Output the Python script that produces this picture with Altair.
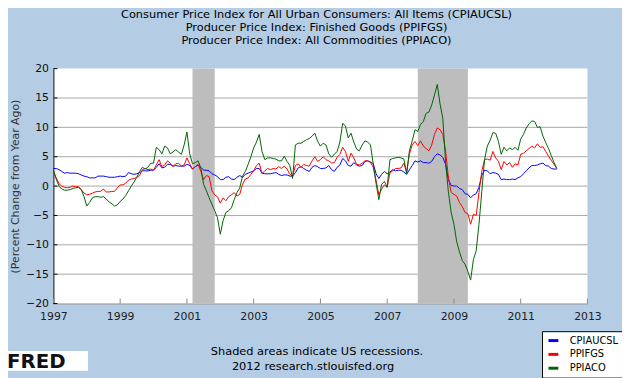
import altair as alt
import pandas as pd

# ---------------- data ----------------
series_names = ["CPIAUCSL", "PPIFGS", "PPIACO"]
series_colors = ["#0000ff", "#ff0000", "#006400"]
start_year = 1997  # monthly values from Jan 1997 to Feb 2012

cpi = [
    3.0, 3.0, 2.8, 2.5, 2.2, 2.3, 2.2, 2.2, 2.2, 2.1, 1.9, 1.7,
    1.6, 1.4, 1.4, 1.4, 1.7, 1.7, 1.7, 1.6, 1.5, 1.5, 1.5, 1.6,
    1.7, 1.6, 1.7, 2.3, 2.1, 2.0, 2.1, 2.3, 2.6, 2.6, 2.6, 2.7,
    2.7, 3.2, 3.8, 3.1, 3.2, 3.7, 3.7, 3.4, 3.5, 3.4, 3.4, 3.4,
    3.7, 3.5, 2.9, 3.3, 3.6, 3.2, 2.7, 2.7, 2.6, 2.1, 1.9, 1.6,
    1.1, 1.1, 1.5, 1.6, 1.2, 1.1, 1.5, 1.8, 1.5, 2.0, 2.2, 2.4,
    2.6, 3.0, 3.0, 2.2, 2.1, 2.1, 2.1, 2.2, 2.3, 2.0, 1.8, 1.9,
    1.9, 1.7, 1.7, 2.3, 3.1, 3.3, 3.0, 2.7, 2.5, 3.2, 3.5, 3.3,
    3.0, 3.0, 3.1, 3.5, 2.8, 2.5, 3.2, 3.6, 4.7, 4.3, 3.5, 3.4,
    4.0, 3.6, 3.4, 3.5, 4.2, 4.3, 4.1, 3.8, 2.1, 1.3, 2.0, 2.5,
    2.1, 2.4, 2.8, 2.6, 2.7, 2.7, 2.4, 2.0, 2.8, 3.5, 4.3, 4.1,
    4.3, 4.0, 4.0, 3.9, 4.2, 5.0, 5.5, 5.3, 4.9, 3.7, 1.1, 0.1,
    0.0, 0.0, -0.4, -0.6, -1.3, -1.4, -2.0, -1.5, -1.3, -0.2, 1.8, 2.7,
    2.6, 2.1, 2.3, 2.2, 2.0, 1.1, 1.2, 1.1, 1.1, 1.2, 1.1, 1.4,
    1.6, 2.1, 2.6, 3.1, 3.5, 3.5, 3.6, 3.8, 3.9, 3.5, 3.4, 3.0,
    2.9, 2.9,
]

ppifgs = [
    2.6, 1.4, 0.4, 0.0, -0.2, -0.3, -0.2, 0.0, -0.1, -0.1, -0.6, -1.2,
    -1.5, -1.4, -1.2, -1.0, -0.9, -0.9, -0.5, -1.0, -1.0, -0.9, -0.9, -0.3,
    0.2, 0.2, 0.5, 1.0, 1.2, 1.3, 1.5, 1.8, 2.8, 3.0, 2.8, 2.9,
    2.7, 3.6, 4.5, 3.3, 3.6, 4.3, 3.9, 3.3, 3.8, 3.9, 3.4, 3.6,
    4.8, 3.8, 2.9, 3.3, 3.7, 2.5, 1.1, 1.8, 1.6, -0.8, -1.5, -1.8,
    -2.9, -2.0, -2.5, -1.8, -1.5, -1.1, -1.7, -1.4, 0.3, 1.2, 1.4, 2.0,
    2.6, 3.5, 3.9, 2.1, 2.6, 3.0, 2.8, 3.0, 2.9, 3.3, 3.0, 3.4,
    2.9, 2.0, 1.7, 3.5, 3.8, 3.2, 3.7, 3.5, 3.4, 4.3, 5.0, 4.2,
    4.5, 5.0, 4.5, 4.3, 3.9, 4.0, 4.9, 5.4, 6.6, 5.9, 4.2, 5.6,
    4.8, 3.7, 3.6, 3.9, 4.3, 4.3, 4.0, 3.2, 1.0, -1.5, -0.5, 0.2,
    -0.2, 2.3, 2.6, 3.0, 3.0, 3.1, 3.9, 2.4, 5.5, 7.0, 7.6, 6.9,
    7.7, 6.8, 6.4, 6.0, 7.0, 8.8, 9.9, 9.6, 8.8, 6.0, 1.5, -1.1,
    -1.4, -1.7, -2.8, -3.5, -4.5, -4.7, -6.5, -4.8, -5.0, -1.1, 2.5, 4.5,
    4.6, 4.4, 5.9, 4.8, 4.2, 2.8, 4.2, 3.6, 4.0, 3.2, 3.8, 3.6,
    5.4, 5.6, 6.0, 6.4, 6.8, 6.5, 7.2, 6.6, 6.7, 5.9, 5.1, 4.4,
    3.7, 3.0,
]

ppiaco = [
    2.6, 1.2, 0.0, -0.5, -0.7, -0.7, -0.6, -0.4, -0.3, -0.2, -0.6, -1.8,
    -3.4, -2.8, -2.0, -1.8, -1.8, -1.9, -1.8, -2.2, -2.7, -3.0, -3.4, -3.2,
    -2.6, -2.2, -1.6, -0.8, 0.0, 0.7, 1.5, 2.5, 3.2, 2.9, 3.2, 3.9,
    3.9, 6.6, 6.2, 5.5, 6.8, 6.5, 5.5, 5.8, 6.2, 5.8, 5.4, 7.0,
    9.2, 5.5, 3.8, 4.0, 4.3, 3.1, 0.3, -0.8, -2.0, -3.1, -4.2, -5.4,
    -8.2, -5.9, -4.5, -4.2, -3.7, -2.3, -1.1, -0.3, 1.7, 2.5, 3.7, 5.0,
    6.5, 7.5, 8.8, 5.9, 4.5, 4.8, 4.8, 4.7, 4.6, 4.3, 4.3, 5.1,
    4.2, 3.5, 1.3, 7.0, 7.3, 7.3, 7.6, 7.9, 8.1, 8.5, 9.0, 7.6,
    6.8, 7.3, 7.0, 5.5, 4.9, 5.4, 5.9, 7.5, 10.7, 10.2, 8.2, 9.0,
    7.5, 6.3, 6.0, 7.0, 7.7, 7.5, 7.0, 3.7, 0.5, -2.3, 0.3, 0.8,
    -0.2, 4.5, 4.7, 4.8, 4.9, 4.8, 4.6, 2.1, 6.0, 7.7, 9.6, 9.3,
    10.5, 11.0, 12.4, 12.6, 13.8, 15.5, 17.3, 14.0, 11.5, 4.0, -1.0, -4.5,
    -6.5, -9.5, -11.2, -12.7, -13.3, -14.5, -16.0, -12.5, -11.0, -6.5, -1.0, 4.5,
    6.8, 7.8, 9.1, 9.0, 7.6, 5.4, 6.6, 6.0, 6.5, 6.2, 6.6, 6.1,
    8.0, 8.8, 9.9, 10.6, 11.1, 11.0, 10.0, 10.1, 8.5, 7.4, 6.4, 5.2,
    4.0, 3.0,
]

recession_start = [2001.167, 2007.917]
recession_end = [2001.833, 2009.417]

x_ticks = [1997, 1999, 2001, 2003, 2005, 2007, 2009, 2011, 2013]
y_ticks = [-20, -15, -10, -5, 0, 5, 10, 15, 20]
grid_values = [-15, -10, -5, 0, 5, 10, 15]

title_lines = [
    "Consumer Price Index for All Urban Consumers: All Items (CPIAUCSL)",
    "Producer Price Index: Finished Goods (PPIFGS)",
    "Producer Price Index: All Commodities (PPIACO)",
]
note_1 = "Shaded areas indicate US recessions."
note_2 = "2012 research.stlouisfed.org"
y_title = "(Percent Change from Year Ago)"

# ---------------- tables ----------------
rows = []
for name, vals in zip(series_names, [cpi, ppifgs, ppiaco]):
    for i, v in enumerate(vals):
        rows.append({"t": start_year + i / 12.0, "series": name, "value": v})
df = pd.DataFrame(rows)

rec_df = pd.DataFrame({"start": recession_start, "end": recession_end,
                       "top": [20, 20], "bottom": [-20, -20]})
grid_df = pd.DataFrame({"g": grid_values})
xt_df = pd.DataFrame({"xt": x_ticks, "y0": [-20] * len(x_ticks),
                      "y1": [-19.15] * len(x_ticks)})
yt_df = pd.DataFrame({"yt": y_ticks, "x0": [1997] * len(y_ticks),
                      "x1": [1997.12] * len(y_ticks)})

W, H = 541, 238
FONT = "DejaVu Sans"

xscale = alt.Scale(domain=[1997, 2013], nice=False, zero=False)
yscale = alt.Scale(domain=[-20, 20], nice=False)

x_axis = alt.Axis(values=x_ticks, format="d", grid=False, tickSize=0,
                  labelPadding=7, labelFlush=False, domainColor="#999999",
                  labelColor="#222222", labelFont=FONT, labelFontSize=11,
                  title=None)
y_axis = alt.Axis(values=y_ticks, grid=False, tickSize=0, labelPadding=5,
                  domainColor="black", labelColor="#111111", labelFont=FONT,
                  labelFontSize=11, title=y_title, titleFont=FONT,
                  titleFontSize=11, titleFontWeight="normal",
                  titleColor="#333333", titleAngle=270, titleX=-38,
                  titleY=H / 2, titleAlign="center", titleBaseline="middle")

grid = alt.Chart(grid_df).mark_rule(color="#a8a8a8", strokeWidth=1).encode(
    y=alt.Y("g:Q", scale=yscale, axis=y_axis),
)

rec = alt.Chart(rec_df).mark_rect(color="#bdbdbd").encode(
    x=alt.X("start:Q", scale=xscale, axis=x_axis),
    x2="end:Q",
    y=alt.Y("top:Q", scale=yscale, axis=y_axis),
    y2="bottom:Q",
)

xtick = alt.Chart(xt_df).mark_rule(color="#888888").encode(
    x=alt.X("xt:Q", scale=xscale, axis=x_axis),
    y=alt.Y("y0:Q", scale=yscale, axis=y_axis),
    y2="y1:Q",
)

ytick = alt.Chart(yt_df).mark_rule(color="black").encode(
    x=alt.X("x0:Q", scale=xscale, axis=x_axis),
    x2="x1:Q",
    y=alt.Y("yt:Q", scale=yscale, axis=y_axis),
)

lines = alt.Chart(df).mark_line(strokeWidth=1).encode(
    x=alt.X("t:Q", scale=xscale, axis=x_axis),
    y=alt.Y("value:Q", scale=yscale, axis=y_axis),
    color=alt.Color("series:N",
                    scale=alt.Scale(domain=series_names, range=series_colors),
                    legend=alt.Legend(orient="none", legendX=495, legendY=266,
                                      title=None, fillColor="white",
                                      strokeColor="black", padding=3,
                                      symbolType="stroke", symbolStrokeWidth=3,
                                      symbolSize=100, symbolOffset=2,
                                      labelFont=FONT, labelFontSize=10,
                                      labelColor="black", labelOffset=10,
                                      rowPadding=1)),
)

note_df = pd.DataFrame({"txt": [note_1]})
note2_df = pd.DataFrame({"txt": [note_2]})
note_a = alt.Chart(note_df).mark_text(font=FONT, fontSize=11.5, color="black",
                                      align="center", baseline="middle").encode(
    text="txt:N", x=alt.value(267), y=alt.value(287))
note_b = alt.Chart(note2_df).mark_text(font=FONT, fontSize=11.5, color="black",
                                       align="center", baseline="middle").encode(
    text="txt:N", x=alt.value(263), y=alt.value(302))

logo_df = pd.DataFrame({"txt": ["FRED"]})
logo_box = alt.Chart(logo_df).mark_rect(color="white").encode(
    x=alt.value(-47), x2=alt.value(35), y=alt.value(286), y2=alt.value(306),
)
logo_text = alt.Chart(logo_df).mark_text(font=FONT, fontSize=20, fontWeight="bold",
                                         color="#111111", align="left",
                                         baseline="middle").encode(
    text="txt:N", x=alt.value(-47), y=alt.value(297),
)

chart = alt.layer(grid, rec, xtick, ytick, lines, note_a, note_b, logo_box,
                  logo_text).properties(
    width=W, height=H,
    padding={"left": 46, "top": 59, "right": 35, "bottom": 73},
    autosize=alt.AutoSizeParams(type="none"),
    background="#b4cce4",
    title=alt.TitleParams(text=title_lines, font=FONT, fontSize=11.5,
                          fontWeight="normal", color="black", anchor="middle",
                          lineHeight=13.4, offset=16, dx=-4),
).configure_view(fill="white", strokeWidth=0)

chart.save("out.html", embed_options={"renderer": "svg", "actions": False})
